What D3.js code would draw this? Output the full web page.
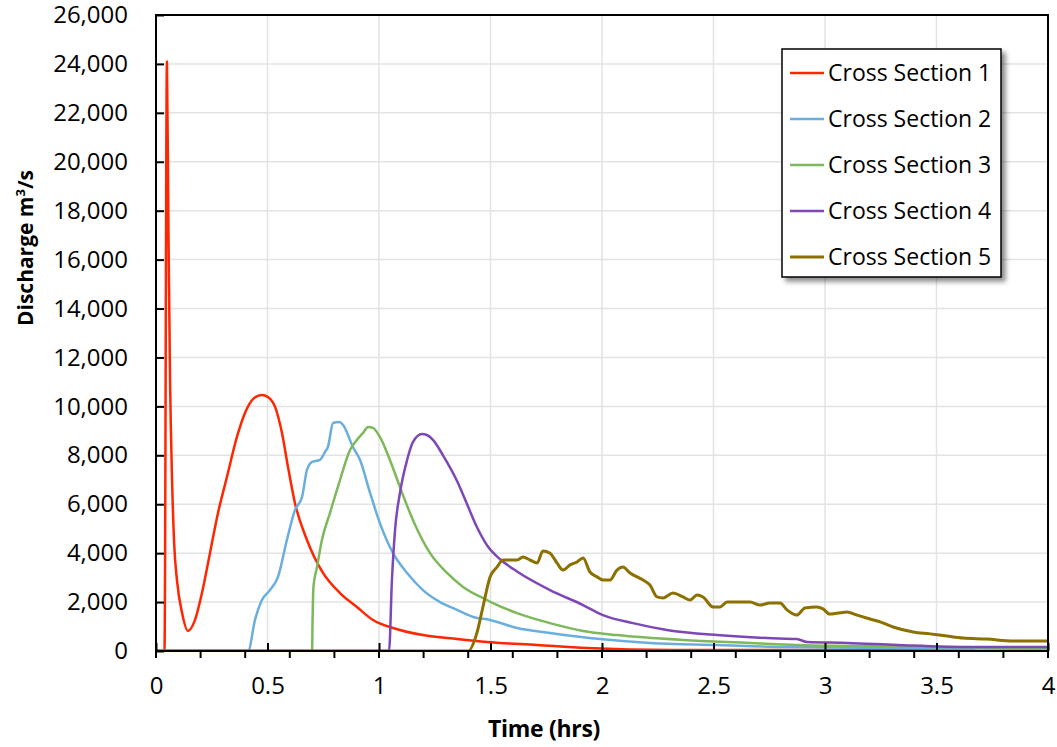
<!DOCTYPE html>
<html>
<head>
<meta charset="utf-8">
<script src="https://cdn.jsdelivr.net/npm/d3@7"></script>
<style>
  body { margin: 0; background: #fff; }
  svg text { fill: #000; }
</style>
</head>
<body>
<div id="chart"></div>
<script>
var width = 1057, height = 747;

// data: [time (hrs), discharge (m3/s)]
var cs1 = [[0,0],[0.038,0],[0.049,24100],[0.056,17000],[0.063,11080],[0.072,7000],[0.082,4300],[0.094,2900],[0.117,1550],
  [0.143,820],[0.175,1270],[0.206,2370],[0.242,4000],[0.278,5640],[0.318,7110],[0.363,8750],[0.399,9730],
  [0.435,10300],[0.475,10470],[0.502,10380],[0.534,9980],[0.565,8910],[0.592,7520],[0.623,6050],
  [0.677,4540],[0.749,3190],[0.825,2370],[0.901,1800],[0.973,1270],[1.063,940],[1.197,650],
  [1.350,490],[1.484,370],[1.709,245],[1.933,120],[2.314,40],[3.673,40]];
var cs2 = [[0,0],[0.413,0],[0.444,1270],[0.475,2085],[0.511,2490],[0.547,3030],[0.587,4540],[0.623,5760],
  [0.655,6300],[0.677,7400],[0.700,7730],[0.735,7810],[0.758,8140],[0.771,8340],[0.794,9320],[0.821,9360],
  [0.839,9240],[0.883,8340],[0.915,7810],[0.960,6460],[1.004,5230],[1.063,4000],[1.126,3190],[1.197,2490],
  [1.274,2000],[1.350,1680],[1.422,1390],[1.498,1270],[1.619,940],[1.767,740],[1.991,490],[2.215,330],
  [2.516,245],[2.812,160],[3.336,120],[4.0,80]];
var cs3 = [[0,0],[0.700,0],[0.702,1200],[0.706,2620],[0.722,3430],[0.744,4540],[0.780,5640],[0.825,6990],
  [0.870,8220],[0.901,8630],[0.928,8910],[0.951,9160],[0.973,9120],[1.004,8750],[1.049,7810],[1.094,6700],
  [1.152,5360],[1.229,4000],[1.305,3190],[1.377,2620],[1.484,2085],[1.511,1960],[1.619,1550],[1.767,1140],
  [1.915,820],[2.067,650],[2.363,450],[2.664,330],[2.874,245],[3.112,200],[4.0,120]];
var cs4 = [[0,0],[1.045,0],[1.058,2900],[1.072,4950],[1.094,6460],[1.126,7810],[1.152,8540],[1.193,8870],
  [1.215,8830],[1.242,8630],[1.287,8000],[1.350,6950],[1.395,6000],[1.440,5050],[1.490,4250],[1.543,3750],
  [1.619,3250],[1.767,2490],[1.915,1880],[2.004,1470],[2.139,1140],[2.291,860],[2.516,650],[2.740,530],
  [2.874,490],[2.919,370],[3.099,330],[3.323,245],[3.650,160],[4.0,160]];
var cs5 = [[0,0],[1.400,0],[1.439,740],[1.466,1800],[1.498,3030],[1.529,3430],[1.556,3720],[1.619,3720],
  [1.646,3840],[1.677,3720],[1.709,3600],[1.735,4090],[1.767,4000],[1.798,3600],[1.825,3310],[1.857,3520],
  [1.888,3640],[1.915,3800],[1.946,3230],[1.978,3030],[2.004,2900],[2.036,2900],[2.067,3310],[2.094,3430],
  [2.126,3190],[2.184,2900],[2.215,2700],[2.247,2210],[2.274,2170],[2.318,2370],[2.363,2210],[2.395,2085],
  [2.426,2290],[2.453,2210],[2.498,1800],[2.529,1800],[2.561,2000],[2.664,2000],[2.709,1880],[2.753,1960],
  [2.798,1960],[2.830,1680],[2.874,1470],[2.910,1760],[2.964,1800],[2.991,1720],[3.022,1510],[3.058,1550],
  [3.099,1590],[3.143,1470],[3.202,1310],[3.247,1190],[3.305,980],[3.395,780],[3.471,700],[3.547,610],
  [3.619,530],[3.726,490],[3.843,410],[4.0,410]];

var seriesNames = ["Cross Section 1","Cross Section 2","Cross Section 3","Cross Section 4","Cross Section 5"];
var seriesColors = ["#ff2600","#6aaee0","#7db85a","#7e47b8","#8c7000"];
var seriesData = [cs1, cs2, cs3, cs4, cs5];

var xTicks = [0,0.5,1,1.5,2,2.5,3,3.5,4];
var yTicks = d3.range(0, 26001, 2000);

var plotL = 156, plotR = 1048, plotT = 15, plotB = 651;

var x = d3.scaleLinear().domain([0,4]).range([plotL,plotR]);
var y = d3.scaleLinear().domain([0,26000]).range([plotB,plotT]);

var svg = d3.select("#chart").append("svg")
    .attr("width", width)
    .attr("height", height);

var defs = svg.append("defs");
defs.append("clipPath").attr("id","plotclip")
  .append("rect").attr("x",plotL).attr("y",plotT).attr("width",plotR-plotL).attr("height",plotB-plotT);
var shadow = defs.append("filter").attr("id","shadow").attr("x","-10%").attr("y","-10%").attr("width","130%").attr("height","130%");
shadow.append("feDropShadow").attr("dx",4).attr("dy",4).attr("stdDeviation",2.5)
  .attr("flood-color","#000").attr("flood-opacity",0.45);

// gridlines
svg.append("g").selectAll("line").data(yTicks.slice(1)).enter().append("line")
    .attr("x1",plotL).attr("x2",plotR)
    .attr("y1",d => y(d)).attr("y2",d => y(d))
    .attr("stroke","#e3e3e3").attr("stroke-width",1.5);
svg.append("g").selectAll("line").data(xTicks.slice(1,-1)).enter().append("line")
    .attr("y1",plotT).attr("y2",plotB)
    .attr("x1",d => x(d)).attr("x2",d => x(d))
    .attr("stroke","#e3e3e3").attr("stroke-width",1.5);

// series
var line = d3.line()
    .x(d => x(d[0]))
    .y(d => y(d[1]))
    .curve(d3.curveMonotoneX);

svg.append("g").attr("clip-path","url(#plotclip)")
  .selectAll("path").data(seriesData).enter().append("path")
    .attr("d", line)
    .attr("fill","none")
    .attr("stroke",(d,i) => seriesColors[i])
    .attr("stroke-width",(d,i) => i == 4 ? 3 : 2.5)
    .attr("stroke-linejoin","round");

// frame
svg.append("rect")
    .attr("x",plotL).attr("y",plotT).attr("width",plotR-plotL).attr("height",plotB-plotT)
    .attr("fill","none").attr("stroke","#000").attr("stroke-width",2);

// y axis
var yAxis = svg.append("g").attr("transform","translate(" + plotL + ",0)")
    .call(d3.axisLeft(y).tickValues(yTicks).tickSize(-8).tickPadding(28).tickFormat(d3.format(",")));
yAxis.select(".domain").remove();
yAxis.selectAll(".tick line").attr("stroke","#000").attr("stroke-width",2);
yAxis.selectAll("text").style("font-family","'Open Sans'").style("font-size","24px");

// x axis: minor ticks below every 0.2, labelled ticks every 0.5 pointing up
svg.append("g").selectAll("line").data(d3.range(0, 4.001, 0.2)).enter().append("line")
    .attr("x1",d => x(d)).attr("x2",d => x(d))
    .attr("y1",plotB).attr("y2",plotB+7)
    .attr("stroke","#000").attr("stroke-width",2);
var xAxis = svg.append("g").attr("transform","translate(0," + plotB + ")")
    .call(d3.axisBottom(x).tickValues(xTicks).tickSize(-8).tickPadding(26).tickFormat(d3.format("")));
xAxis.select(".domain").remove();
xAxis.selectAll(".tick line").attr("stroke","#000").attr("stroke-width",2);
xAxis.selectAll("text").style("font-family","'Open Sans'").style("font-size","24px");

// axis titles
svg.append("text")
    .attr("x",544).attr("y",737)
    .attr("text-anchor","middle")
    .style("font-family","'Open Sans'").style("font-weight","bold").style("font-size","23px")
    .style("letter-spacing","-0.3px")
    .text("Time (hrs)");
svg.append("text")
    .attr("transform","translate(33,248) rotate(-90)")
    .attr("text-anchor","middle")
    .style("font-family","'Open Sans'").style("font-weight","bold").style("font-size","21px")
    .html("Discharge m<tspan dy='-8' style='font-size:13px'>3</tspan><tspan dy='8'>/s</tspan>");

// legend
var legend = svg.append("g");
legend.append("rect")
    .attr("x",782).attr("y",49).attr("width",219).attr("height",228)
    .attr("fill","#fff").attr("stroke","#000").attr("stroke-width",1.5)
    .attr("filter","url(#shadow)");
var items = legend.selectAll("g.item").data(seriesNames).enter().append("g")
    .attr("class","item")
    .attr("transform",(d,i) => "translate(0," + (73 + i*46) + ")");
items.append("line")
    .attr("x1",790).attr("x2",824).attr("y1",0).attr("y2",0)
    .attr("stroke",(d,i) => seriesColors[i]).attr("stroke-width",(d,i) => i == 4 ? 3 : 2.5);
items.append("text")
    .attr("x",828).attr("y",0).attr("dy","0.35em")
    .style("font-family","'Open Sans'").style("font-size","23px")
    .text(d => d);
</script>
</body>
</html>
